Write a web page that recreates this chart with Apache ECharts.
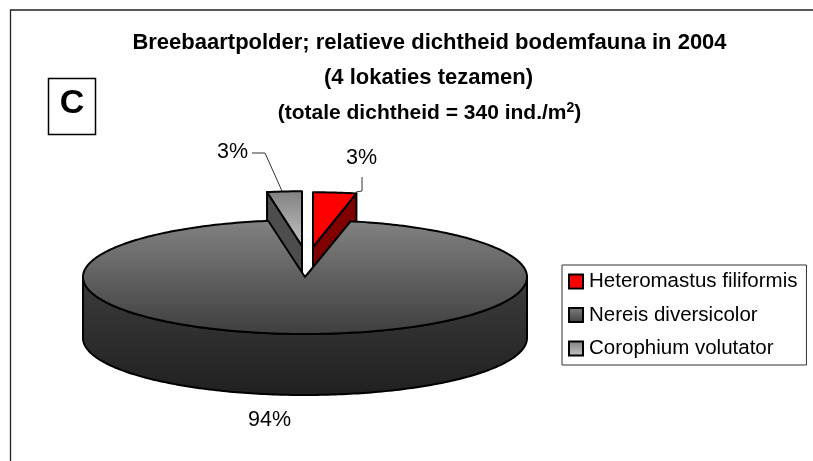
<!DOCTYPE html>
<html><head><meta charset="utf-8">
<style>html,body{margin:0;padding:0;background:#fff}#c{width:813px;height:461px}</style>
<script src="https://cdn.jsdelivr.net/npm/echarts@6/dist/echarts.min.js"></script>
</head><body><div id="c"></div>
<script>
const species = ['Heteromastus filiformis', 'Nereis diversicolor', 'Corophium volutator'];
const shares = [3.3, 94.05, 2.65];
const titleLines = ['Breebaartpolder; relatieve dichtheid bodemfauna in 2004', '(4 lokaties tezamen)', '(totale dichtheid = 340 ind./m', '2', ')'];
const panelLetter = 'C';

const FONT = '"Liberation Sans", Arial, sans-serif';
const cx = 305, cy = 277, rx = 222, ry = 57, depth = 61;
const total = shares.reduce((a, b) => a + b, 0);
const grad = (a, b) => new echarts.graphic.LinearGradient(0, 0, 0, 1, [{offset: 0, color: a}, {offset: 1, color: b}]);

// per-slice look: explode offset, radial squash, colours, label and leader
const look = [
  {dx: 8, dy: -30, rxS: 0.95, ryS: 0.96, top: '#ff0000', side: '#800000', legend: '#ff0000',
   label: [361.5, 158], leader: [[362, 177], [362, 191], [356, 192]]},
  {dx: 0, dy: 0, rxS: 1, ryS: 1, top: grad('#828282', '#3e3e3e'), side: grad('#3c3c3c', '#202020'), legend: grad('#808080', '#404040'),
   label: [269.5, 420], leader: null},
  {dx: -3, dy: -31, rxS: 0.95, ryS: 0.96, top: grad('#808080', '#c4c4c4'), side: '#4d4d4d', legend: grad('#808080', '#c4c4c4'),
   label: [232.5, 152], leader: [[252, 153], [265, 153], [282, 191]]}
];

function angles(i) {
  let s = 0;
  for (let k = 0; k < i; k++) s += shares[k];
  return [s / total * 2 * Math.PI, (s + shares[i]) / total * 2 * Math.PI];
}
function renderSlice(idx, params, api) {
  const [a0, a1] = angles(idx);
  const L = look[idx];
  const ox = cx + L.dx, oy = cy + L.dy, ryy = ry * L.ryS, rxx = rx * L.rxS;
  const pt = a => [ox + rxx * Math.sin(a), oy - ryy * Math.cos(a)];
  const rim = [];
  const n = Math.max(6, Math.round((a1 - a0) * 60));
  for (let k = 0; k <= n; k++) rim.push(pt(a0 + (a1 - a0) * k / n));
  const style = fill => ({fill, stroke: '#000', lineWidth: 2, lineJoin: 'round'});
  const kids = [];
  const drop = p => [p[0], p[1] + depth];
  if (idx === 1) {
    // front wall: the part of the rim facing the viewer
    const front = rim.filter(p => p[1] >= oy - 0.01);
    const wall = front.concat(front.slice().reverse().map(drop));
    kids.push({type: 'polygon', shape: {points: wall}, style: style(L.side)});
    kids.push({type: 'polygon', shape: {points: [[ox, oy]].concat(rim)}, style: style(L.top)});
  } else {
    // cut face of an exploded slice
    const cutEnd = idx === 0 ? rim[rim.length - 1] : rim[0];
    kids.push({type: 'polygon', shape: {points: [[ox, oy], cutEnd, drop(cutEnd), drop([ox, oy])]}, style: style(L.side)});
    kids.push({type: 'polygon', shape: {points: [[ox, oy]].concat(rim)}, style: style(L.top)});
  }
  if (L.leader) kids.push({type: 'polyline', shape: {points: L.leader}, style: {fill: null, stroke: '#333', lineWidth: 1}});
  kids.push({type: 'text', x: L.label[0], y: L.label[1], z2: 50, style: {
    text: Math.round(shares[idx] / total * 100) + '%', x: 0, y: 0, align: 'center', verticalAlign: 'middle',
    font: '21.5px ' + FONT, fill: '#000'}});
  return {type: 'group', children: kids};
}
const seriesZ = [2, 3, 2];
const series = species.map((name, i) => ({
  type: 'custom', name, coordinateSystem: 'none', z: seriesZ[i], silent: true, animation: false,
  itemStyle: {color: look[i].legend, borderColor: '#000', borderWidth: 2},
  data: [shares[i]],
  renderItem: (p, api) => renderSlice(i, p, api)
}));

const chart = echarts.init(document.getElementById('c'), null, {renderer: 'canvas'});
chart.setOption({
  animation: false,
  backgroundColor: '#fff',
  title: [
    {text: titleLines[0], left: 424.5, top: 27, textAlign: 'center', textStyle: {fontFamily: FONT, fontWeight: 'bold', fontSize: 22, color: '#000'}},
    {text: titleLines[1], left: 423.5, top: 62, textAlign: 'center', textStyle: {fontFamily: FONT, fontWeight: 'bold', fontSize: 22, color: '#000'}},
    {text: '{a|' + titleLines[2] + '}{s|' + titleLines[3] + '}{a|' + titleLines[4] + '}', left: 424.5, top: 96, textAlign: 'center',
     textStyle: {rich: {
       a: {fontFamily: FONT, fontWeight: 'bold', fontSize: 21, color: '#000', lineHeight: 24},
       s: {fontFamily: FONT, fontWeight: 'bold', fontSize: 14, color: '#000', verticalAlign: 'top', lineHeight: 24}
     }}}
  ],
  legend: {
    orient: 'vertical', left: 562, top: 265,
    padding: [6, 9, 6, 6], itemGap: 12.5, itemWidth: 14, itemHeight: 14,
    borderColor: '#333', borderWidth: 1, backgroundColor: '#fff', selectedMode: false,
    icon: 'rect', data: species,
    textStyle: {fontFamily: FONT, fontSize: 20.5, color: '#000', padding: [0, 0, 0, 1]}
  },
  graphic: [
    {type: 'rect', z: 0, silent: true, shape: {x: 10.5, y: 10, width: 840, height: 470}, style: {fill: '#fff', stroke: '#222', lineWidth: 1.3}},
    {type: 'rect', z: 5, silent: true, shape: {x: 48.5, y: 78.5, width: 47, height: 56}, style: {fill: '#fff', stroke: '#000', lineWidth: 1.5}},
    {type: 'text', z: 6, silent: true, x: 72, y: 104, style: {text: panelLetter, x: 0, y: 0, align: 'center', verticalAlign: 'middle', font: 'bold 34px ' + FONT, fill: '#000'}}
  ],
  series
});
</script></body></html>
